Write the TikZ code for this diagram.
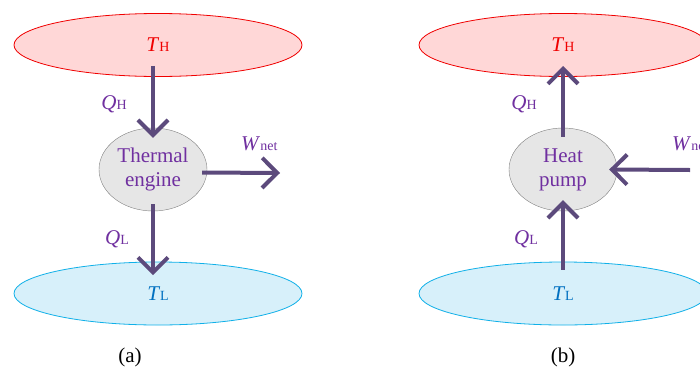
\documentclass[tikz,border=0pt]{standalone}
\usepackage{fontspec}
\setmainfont{Liberation Serif}
\usetikzlibrary{shapes.geometric, arrows.meta, positioning, calc}

\definecolor{hotfill}{HTML}{FFD7D7}
\definecolor{hotline}{HTML}{F00000}
\definecolor{coldfill}{HTML}{D7F0FA}
\definecolor{coldline}{HTML}{10B0E8}
\definecolor{corefill}{HTML}{E6E6E6}
\definecolor{coreline}{HTML}{808080}
\definecolor{flowcol}{HTML}{5C4A7C}
\definecolor{labcol}{HTML}{7030A0}
\definecolor{coldtext}{HTML}{0070C0}

\newcommand{\sub}[1]{{\fontsize{14}{14}\selectfont #1}}

\begin{document}
\begin{tikzpicture}[x=1pt, y=-1pt,
      font=\fontsize{21}{24}\selectfont,
      hot/.style={ellipse, draw=hotline, thick, fill=hotfill, minimum width=288pt, minimum height=63pt, inner sep=0pt, text=hotline},
      cold/.style={ellipse, draw=coldline, thick, fill=coldfill, minimum width=288pt, minimum height=63pt, inner sep=0pt, text=coldtext},
      core/.style={ellipse, draw=coreline, fill=corefill, minimum width=108pt, minimum height=83pt, inner sep=0pt, align=center, text=labcol},
      lab/.style={text=labcol, inner sep=0pt},
      flow/.style={draw=flowcol, line width=4pt, -{Straight Barb[length=15pt, width=30pt]}}
    ]
    \clip (0,0) rectangle (700,367);

    % (a) thermal engine
    \node[hot] (hotA) at (158,45) {\raisebox{-5pt}{\textit{T}\sub{H}}};
    \node[cold] (coldA) at (158,293.5) {\raisebox{-3pt}{\textit{T}\sub{L}}};
    \node[core] (eng) at (153,169.5) {Thermal\\engine};
    \coordinate (wA) at (280,173);

    \draw[flow] ($(eng.north)+(0,-62)$) -- ([yshift=-10pt]eng.north);
    \draw[flow] ([yshift=7pt]eng.south) -- ($(eng.south)+(0,64)$);
    \draw[flow] ([xshift=-5pt, yshift=-3pt]eng.east) -- (wA);

    \node[lab] (qhA) at (114,104) {\textit{Q}\sub{H}};
    \node[lab] (qlA) at (117,239) {\textit{Q}\sub{L}};
    \node[lab, anchor=base west] (wnA) at (241,150) {\textit{W}\sub{net}};
    \node[anchor=base] (capA) at (130,362) {(a)};

    % (b) heat pump
    \node[hot] (hotB) at (563,45) {\raisebox{-5pt}{\textit{T}\sub{H}}};
    \node[cold] (coldB) at (563,293.5) {\raisebox{-3pt}{\textit{T}\sub{L}}};
    \node[core] (pump) at (563,169.5) {Heat\\pump};
    \coordinate (wB) at (690,170);

    \draw[flow] ([yshift=-9pt]pump.north) -- ([yshift=-21pt]hotB.center);
    \draw[flow] ([yshift=-8pt]coldB.north) -- ([yshift=11pt]pump.south);
    \draw[flow] (wB) -- ([xshift=-8pt]pump.east);

    \node[lab] (qhB) at (524,104) {\textit{Q}\sub{H}};
    \node[lab] (qlB) at (526,239) {\textit{Q}\sub{L}};
    \node[lab, anchor=base west] (wnB) at (672,150) {\textit{W}\sub{net}};
    \node[anchor=base] (capB) at (563,362) {(b)};
  \end{tikzpicture}
\end{document}
